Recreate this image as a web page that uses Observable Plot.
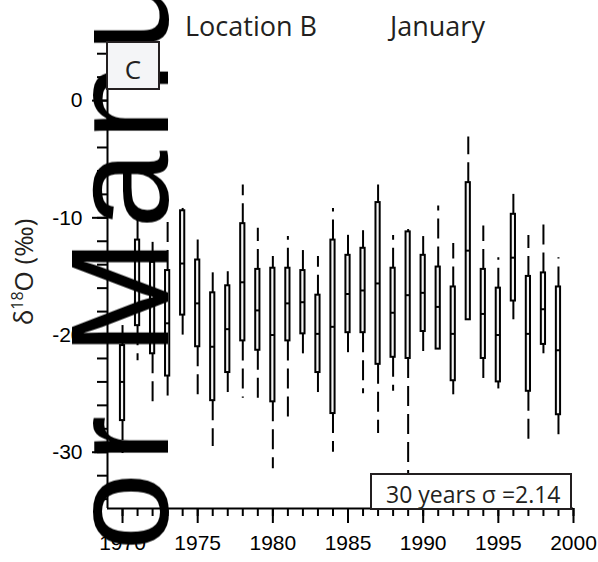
<!DOCTYPE html>
<html>
<head>
<meta charset="utf-8">
<script src="https://cdn.jsdelivr.net/npm/d3@7"></script>
<script src="https://cdn.jsdelivr.net/npm/@observablehq/plot@0.6"></script>
<style>
  html, body { margin: 0; padding: 0; background: #fff; }
  #chart { position: relative; width: 598px; height: 562px; overflow: hidden; }
  #chart > svg { position: absolute; left: 0; top: 0; }
  .sans { font-family: "Open Sans", "Noto Sans", sans-serif; fill: #231f20; }
</style>
</head>
<body>
<div id="chart"></div>
<script>
// January δ18O at Location B, one box per year (1970–1999)
const years = [1970, 1971, 1972, 1973, 1974, 1975, 1976, 1977, 1978, 1979,
               1980, 1981, 1982, 1983, 1984, 1985, 1986, 1987, 1988, 1989,
               1990, 1991, 1992, 1993, 1994, 1995, 1996, 1997, 1998, 1999];
const whiskerHigh   = [-19.1, -9.6, -11.6, -9.8, -9.2, -11.6, -14.4, -14.6, -7.2, -10.9,
                       -13.3, -11.6, -12.6, -13.3, -9.2, -11.0, -11.1, -7.2, -11.5, -11.0,
                       -11.6, -9.0, -12.2, -3.1, -10.7, -13.4, -8.0, -11.5, -10.2, -13.4];
const upperQuartile = [-20.9, -11.9, -13.8, -14.5, -9.4, -13.6, -16.4, -15.8, -10.5, -14.4,
                       -14.3, -14.3, -14.5, -16.6, -11.9, -13.2, -12.6, -8.7, -14.3, -11.2,
                       -13.2, -14.2, -15.9, -7.0, -14.4, -16.0, -9.7, -15.0, -14.7, -15.9];
const medians       = [-24.0, -15.6, -17.5, -19.0, -13.9, -17.3, -21.0, -19.5, -15.5, -17.9,
                       -20.0, -17.3, -17.2, -19.9, -19.3, -16.5, -16.2, -15.6, -18.1, -16.6,
                       -16.4, -17.6, -19.9, -12.8, -18.2, -20.0, -13.4, -19.9, -17.8, -21.3];
const lowerQuartile = [-27.3, -19.2, -21.6, -23.5, -18.3, -21.0, -25.6, -23.2, -20.5, -21.3,
                       -25.7, -20.5, -19.9, -23.2, -26.7, -19.8, -19.8, -22.5, -21.9, -22.0,
                       -19.7, -21.2, -23.9, -18.7, -22.0, -24.0, -17.1, -24.8, -20.8, -26.8];
const whiskerLow    = [-30.1, -22.2, -25.7, -25.3, -20.2, -25.7, -29.5, -25.5, -25.4, -25.8,
                       -31.4, -27.0, -22.2, -25.1, -30.0, -21.7, -25.0, -28.4, -24.8, -32.0,
                       -21.5, -21.2, -25.1, -18.7, -24.3, -24.6, -18.7, -29.0, -21.6, -28.6];

const yearTicks = [1970, 1975, 1980, 1985, 1990, 1995, 2000];
const yTicks = [0, -10, -20, -30];

const rows = years.map((year, i) => ({
  year,
  hi: whiskerHigh[i],
  q3: upperQuartile[i],
  med: medians[i],
  q1: lowerQuartile[i],
  lo: whiskerLow[i]
}));

const xDomain = [1969, 2000];
const yDomain = [-34.8, 5];
const half = 0.14; // half box width, in years

const plot = Plot.plot({
  width: 598,
  height: 562,
  marginLeft: 107,
  marginRight: 25,
  marginTop: 41.5,
  marginBottom: 54,
  style: { fontFamily: "'Liberation Sans', Arial, sans-serif", color: "#000", background: "transparent" },
  x: { domain: xDomain },
  y: { domain: yDomain },
  marks: [
    // dashed whiskers, starting from the box edges
    Plot.ruleX(rows, { x: "year", y1: "q3", y2: "hi", stroke: "#000", strokeWidth: 2, strokeDasharray: "20,8" }),
    Plot.ruleX(rows, { x: "year", y1: "q1", y2: "lo", stroke: "#000", strokeWidth: 2, strokeDasharray: "20,8" }),
    // interquartile boxes
    Plot.rect(rows, { x1: d => d.year - half, x2: d => d.year + half, y1: "q1", y2: "q3",
                      fill: "#f4f4f4", stroke: "#000", strokeWidth: 2 }),
    // medians
    Plot.ruleY(rows, { y: "med", x1: d => d.year - half, x2: d => d.year + half, stroke: "#000", strokeWidth: 2 }),
    // axes
    Plot.axisX(d3.range(1970, 2001), { tickSize: 8, tickFormat: () => "", strokeWidth: 2, label: null }),
    Plot.axisX(yearTicks, { tickSize: 15, tickPadding: 12, fontSize: 21, tickFormat: d => String(d), strokeWidth: 2, label: null }),
    Plot.axisY(d3.range(-34, 5, 2), { tickSize: 10, tickFormat: () => "", strokeWidth: 2, label: null }),
    Plot.axisY(yTicks, { tickSize: 15, tickPadding: 10, fontSize: 21, tickFormat: d => String(d), strokeWidth: 2, label: null }),
    Plot.ruleY([yDomain[0]], { stroke: "#000", strokeWidth: 2 }),
    Plot.ruleX([xDomain[0]], { stroke: "#000", strokeWidth: 2 })
  ]
});

const chart = document.getElementById("chart");
chart.appendChild(plot);

// titles, axis title, overprinted watermark, then panel letter and statistics box on top
const notes = `
<svg width="598" height="562" xmlns="http://www.w3.org/2000/svg">
  <defs><filter id="soft"><feGaussianBlur stdDeviation="0.7"/></filter></defs>
  <text class="sans" x="185" y="36" font-size="27">Location B</text>
  <text class="sans" x="390" y="36" font-size="27">January</text>
  <text class="sans" transform="translate(33,272) rotate(-90)" font-size="26" text-anchor="middle">δ<tspan font-size="16" dy="-10">18</tspan><tspan dy="10">O (‰)</tspan></text>
  <text transform="translate(168,550.6) rotate(-90)" font-family="'Liberation Sans', Arial, sans-serif"
        font-size="140" letter-spacing="10.5" fill="#000" filter="url(#soft)">or Manu</text>
  <rect x="107" y="42" width="52" height="47" fill="#f4f5f7" stroke="#231f20" stroke-width="2"/>
  <text class="sans" x="133" y="79" font-size="26" text-anchor="middle">C</text>
  <rect x="371" y="474" width="200" height="35" fill="#fff" stroke="#231f20" stroke-width="2"/>
  <text class="sans" x="386" y="503" font-size="23">30 years σ =2.14</text>
</svg>`;
chart.insertAdjacentHTML("beforeend", notes);
</script>
</body>
</html>
